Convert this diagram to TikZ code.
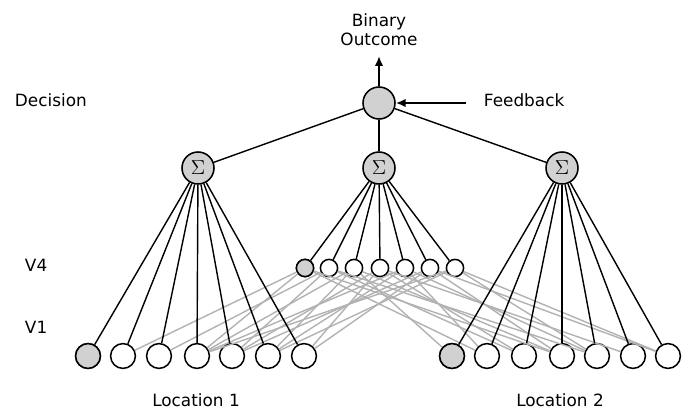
\documentclass[tikz,border=0pt]{standalone}
\usepackage{fontspec}
\setmainfont{DejaVu Sans}
\usetikzlibrary{arrows.meta}

\tikzset{
	unit/.style={circle, draw, line width=1.1pt, inner sep=0pt, fill=white},
	sumunit/.style={unit, minimum size=0.8cm, fill=black!18},
	vfour/.style={unit, minimum size=0.43cm},
	vone/.style={unit, minimum size=0.62cm},
	wire/.style={line width=1pt},
	lateral/.style={line width=1pt, black!30},
	label/.style={font=\fontsize{12}{14.5}\selectfont}
}

\begin{document}
\begin{tikzpicture}[x=0.025cm, y=-0.025cm]
	\useasboundingbox (0,0) rectangle (689,415);

	% top of the network
	\node [sumunit] (dec) at (379,103) {};
	\node [sumunit] (sa) at (198,168) {\Large$\Sigma$};
	\node [sumunit] (sb) at (379,168) {\Large$\Sigma$};
	\node [sumunit] (sc) at (562,168) {\Large$\Sigma$};

	% V4 and V1 units
	\foreach \x [count=\i] in {305,329,354,380,405,430,455}
		\node [vfour] (v4-\i) at (\x,268) {};
	\foreach \x [count=\i] in {88,123,159,197,232,268,304}
		\node [vone] (la-\i) at (\x,356) {};
	\foreach \x [count=\i] in {452,487,524,562,597,633,668}
		\node [vone] (lb-\i) at (\x,356) {};
	\node [vfour, fill=black!18] at (v4-1) {};
	\node [vone, fill=black!18] at (la-1) {};
	\node [vone, fill=black!18] at (lb-1) {};

	% grey connections V1 -> V4
	\foreach \a/\b in {1/2,1/4,2/3,2/5,3/4,3/6,4/5,4/7,5/4,5/6,6/5,6/7,7/6,7/4}
		\draw [lateral] (v4-\a) -- (la-\b);
	\foreach \a/\b in {1/2,1/4,2/3,2/5,3/1,3/4,4/3,4/6,5/2,5/5,6/4,6/7,7/7,7/5}
		\draw [lateral] (v4-\a) -- (lb-\b);

	% black connections
	\foreach \s in {sa,sb,sc}
		\draw [wire] (dec) -- (\s);
	\foreach \i in {1,...,7} {
		\draw [wire] (sa) -- (la-\i);
		\draw [wire] (sb) -- (v4-\i);
		\draw [wire] (sc) -- (lb-\i);
	}

	% outcome and feedback
	\coordinate (top) at (379,56);
	\coordinate (fbs) at (466,103);
	\draw [arrows={-Latex[length=7pt, width=6pt]}, line width=1.7pt] (dec) -- (top);
	\draw [arrows={-Latex[length=7pt, width=6pt]}, line width=1.7pt] (fbs) -- (dec);
	\node [label, align=center] (out) at (379,30) {Binary\\[-1pt]Outcome};
	\node [label, anchor=west] (fb) at (479,100) {Feedback};

	\node [label, anchor=west] (decl) at (10,100) {Decision};
	\node [label, anchor=west] (v4l) at (20,265) {V4};
	\node [label, anchor=west] (v1l) at (20,327) {V1};
	\node [label] (loca) at (196,400) {Location 1};
	\node [label] (locb) at (560,400) {Location 2};
\end{tikzpicture}
\end{document}
